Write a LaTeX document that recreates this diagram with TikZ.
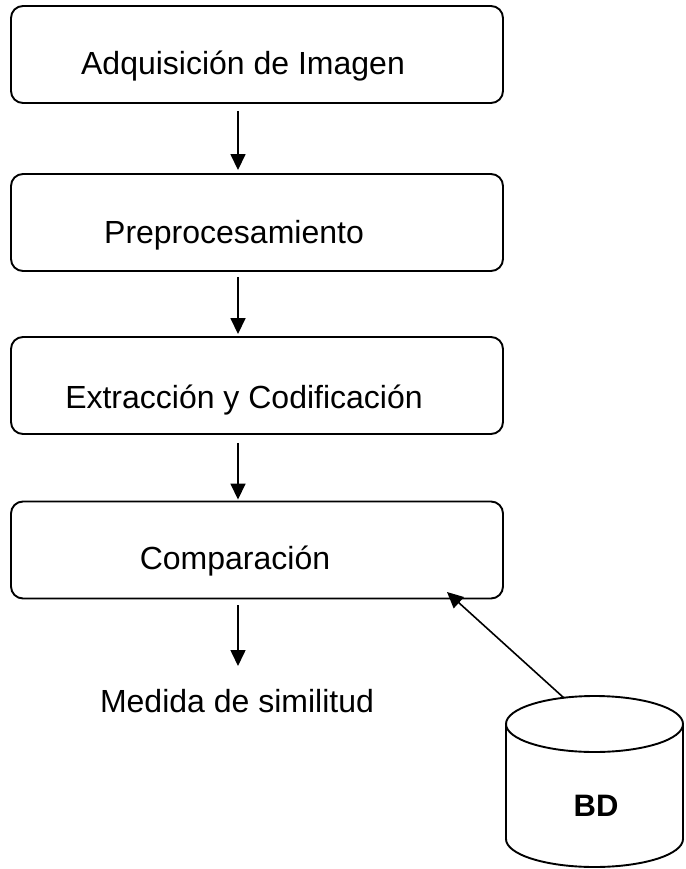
\documentclass[tikz,border=0pt]{standalone}
\usepackage{fontspec}
\setmainfont{Liberation Sans}
\usetikzlibrary{arrows.meta}
\begin{document}
\begin{tikzpicture}[x=1pt,y=-1pt,
  stagebox/.style={draw,line width=1.9pt,rounded corners=12pt,minimum width=492pt,minimum height=97pt,inner sep=0pt},
  lbl/.style={font=\fontsize{32}{37}\selectfont,anchor=base,inner sep=0pt},
  arr/.style={line width=1.6pt,-{Triangle[width=15pt,length=16pt]}},
  cyl/.style={line width=1.9pt}]
\useasboundingbox (0,0) rectangle (685,869);
% boxes
\node[stagebox] (b1) at (257,54.5) {};
\node[stagebox] (b2) at (257,222.5) {};
\node[stagebox] (b3) at (257,385.5) {};
\node[stagebox] (b4) at (257,550) {};
% labels
\node[lbl] (t1) at (243,75) {Adquisición de Imagen};
\node[lbl] (t2) at (234,243) {Preprocesamiento};
\node[lbl] (t3) at (244,408) {Extracción y Codificación};
\node[lbl] (t4) at (235,569) {Comparación};
\node[lbl] (med) at (237,712) {Medida de similitud};
% arrows
\draw[arr] ([xshift=-19pt,yshift=-7pt]b1.south) -- ([xshift=-19pt,yshift=3pt]b2.north);
\draw[arr] ([xshift=-19pt,yshift=-5pt]b2.south) -- ([xshift=-19pt,yshift=2pt]b3.north);
\draw[arr] ([xshift=-19pt,yshift=-8pt]b3.south) -- ([xshift=-19pt,yshift=1pt]b4.north);
\coordinate (mtip) at (238,666);
\draw[arr] ([xshift=-19pt,yshift=-6pt]b4.south) -- (mtip);
% database cylinder
\draw[cyl] (594.5,724) ellipse [x radius=88.5, y radius=28];
\draw[cyl] (506,724) -- (506,839) arc[start angle=180,end angle=360,x radius=88.5,y radius=-28] -- (683,724);
\node[font=\fontsize{31}{35}\selectfont\bfseries,anchor=base,inner sep=0pt] (bd) at (596,816) {BD};
\coordinate (dbtop) at (564,698);
\coordinate (cmpin) at (447,592);
\draw[arr] (dbtop) -- (cmpin);
\end{tikzpicture}
\end{document}
